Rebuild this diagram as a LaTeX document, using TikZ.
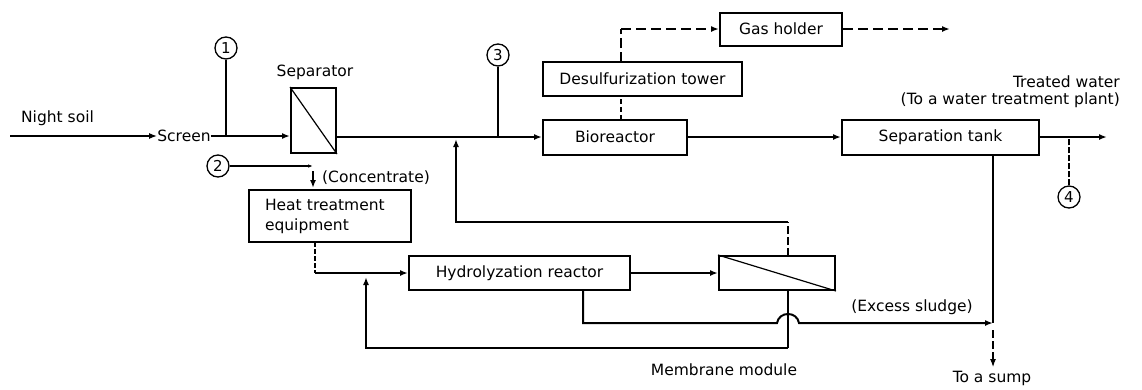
\documentclass[tikz,border=0pt]{standalone}
\usepackage{fontspec}
\setmainfont{DejaVu Sans}
\usetikzlibrary{arrows.meta}
\begin{document}
\begin{tikzpicture}[x=1pt,y=-1pt,
  txt/.style={font=\fontsize{15.5}{18}\selectfont, inner sep=0pt},
  box/.style={draw, line width=2pt, font=\fontsize{15.5}{18}\selectfont, inner sep=0pt},
  flow/.style={line width=2pt},
  thinl/.style={line width=1.1pt},
  arr/.style={-{Latex[length=8pt,width=6pt]}},
  num/.style={draw, circle, line width=1.3pt, minimum size=22pt, inner sep=0pt, font=\fontsize{15}{15}\selectfont}
]
\useasboundingbox (0,0) rectangle (1142,389);

% boxes
\node[box, minimum width=45pt, minimum height=65pt] (sep) at (313.5,120.5) {};
\draw[line width=1.2pt] (sep.north west) -- (sep.south east);
\node[box, minimum width=144pt, minimum height=35pt] (bio) at (615,137) {Bioreactor};
\node[box, minimum width=199pt, minimum height=34pt] (desulf) at (642.5,79) {Desulfurization tower};
\node[box, minimum width=122pt, minimum height=33pt] (gas) at (781,29) {Gas holder};
\node[box, minimum width=197pt, minimum height=35pt] (tank) at (940.5,137) {Separation tank};
\node[box, text width=130pt, align=left, inner xsep=16pt, minimum height=52pt, font=\fontsize{15.5}{20}\selectfont] (heat) at (330,216) {Heat treatment\\equipment};
\node[box, minimum width=221pt, minimum height=34pt] (hyd) at (519.5,273) {Hydrolyzation reactor};
\node[box, minimum width=116pt, minimum height=34pt] (mem) at (777,273) {};
\draw[line width=1.2pt] (mem.north west) -- (mem.south east);

% texts
\node[txt] (ns) at (57.5,118) {Night soil};
\node[txt] (screen) at (184,136) {Screen};
\node[txt] (septxt) at (315,72) {Separator};
\node[txt, anchor=west] (conc) at (322,178) {(Concentrate)};
\node[txt, anchor=east] (tw1) at (1120,82) {Treated water};
\node[txt, anchor=east] (tw2) at (1120,100) {(To a water treatment plant)};
\node[txt] (excess) at (912,307) {(Excess sludge)};
\node[txt] (memtxt) at (724,370) {Membrane module};
\node[txt] (sump) at (992,378) {To a sump};

% numbered points
\node[num] (c1) at (226,48) {1};
\node[num] (c2) at (218,166) {2};
\node[num] (c3) at (498,55) {3};
\node[num] (c4) at (1069,197) {4};

% coordinates
\coordinate (nsin) at (10,136);
\coordinate (twout) at (1107,137);
\coordinate (c2end) at (313,166);
\coordinate (concA) at (313,171);
\coordinate (concB) at (313,188);
\coordinate (hb) at (315,242);
\coordinate (hbend) at (315,273);
\coordinate (rb1) at (788,290);
\coordinate (rb2) at (788,348);
\coordinate (rb3) at (366,348);
\coordinate (rb4) at (366,277);
\coordinate (rt1) at (788,256);
\coordinate (rt2) at (788,222);
\coordinate (rt3) at (456,222);
\coordinate (rt4) at (456,139);
\coordinate (ex1) at (583,290);
\coordinate (ex2) at (583,323);
\coordinate (hopA) at (777,323);
\coordinate (hopB) at (799,323);
\coordinate (ex3) at (993,323);
\coordinate (tk1) at (993,155);
\coordinate (sp1) at (993,330);
\coordinate (sp2) at (993,367);
\coordinate (g1) at (621,119.5);
\coordinate (g2) at (621,96);
\coordinate (g3) at (621,62);
\coordinate (g4) at (621,29);
\coordinate (gout) at (950,29);

% main flow
\draw[flow,arr] (nsin) -- (screen.west);
\draw[flow,arr] (screen.east) -- (screen.east -| sep.west);
\draw[flow,arr] (sep.east |- bio.west) -- (bio.west);
\draw[flow,arr] (bio.east) -- (tank.west);
\draw[flow,arr] (tank.east) -- (twout);

% sampling points
\draw[thinl] (c1.south) -- (c1.south |- screen.east);
\draw[thinl] (c3.south) -- (c3.south |- bio.west);
\draw[thinl, dashed, dash pattern=on 6pt off 2pt] (c4.north) -- (c4.north |- tank.east);
\draw[thinl, -{Latex[length=5pt,width=3.5pt]}] (c2.east) -- (c2end);
\draw[flow, arr] (concA) -- (concB);

% heat -> hydrolyzation
\draw[thinl, dashed, dash pattern=on 5pt off 2pt] (hb) -- (hbend);
\draw[flow,arr] (hbend) -- (hyd.west);
\draw[flow,arr] (hyd.east) -- (mem.west);

% membrane returns
\draw[thinl] (rb1) -- (rb2);
\draw[flow,arr] (rb2) -- (rb3) -- (rb4);
\draw[thinl, dashed, dash pattern=on 8pt off 3pt] (rt1) -- (rt2);
\draw[flow,arr] (rt2) -- (rt3) -- (rt4);

% excess sludge
\draw[flow,arr] (ex1) -- (ex2) -- (hopA) .. controls (779,311) and (797,311) .. (hopB) -- (ex3);
\draw[thinl] (tk1) -- (ex3);
\draw[thinl, dashed, dash pattern=on 8pt off 3pt, arr] (sp1) -- (sp2);

% gas line
\draw[thinl, dashed, dash pattern=on 5pt off 3pt] (g1) -- (g2);
\draw[thinl, dashed, dash pattern=on 10pt off 4pt] (g3) -- (g4);
\draw[flow, dashed, dash pattern=on 10pt off 5pt, arr] (g4) -- (gas.west);
\draw[flow, dashed, dash pattern=on 10pt off 5pt, arr] (gas.east) -- (gout);
\end{tikzpicture}
\end{document}
